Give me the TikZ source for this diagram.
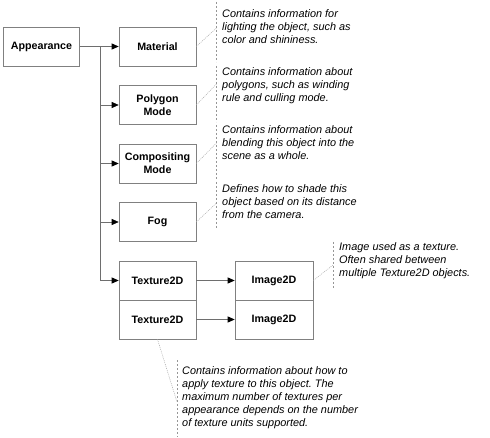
\documentclass[tikz,border=0pt]{standalone}
\usepackage{fontspec}
\setmainfont{Liberation Sans}
\frenchspacing
\usetikzlibrary{arrows.meta}
\definecolor{boxline}{RGB}{128,128,128}
\definecolor{conline}{RGB}{110,110,110}
\definecolor{dashline}{RGB}{150,150,150}
\definecolor{leadline}{RGB}{170,170,170}
\tikzset{
  box/.style={draw=boxline, line width=0.6pt, minimum width=77pt, minimum height=39pt,
    inner sep=1pt, align=center, font=\fontsize{10.7}{13}\selectfont\bfseries},
  arr/.style={draw=conline, line width=0.6pt, -{Triangle[length=7pt,width=6pt,fill=black,color=black]}},
  note/.style={anchor=north west, inner sep=0pt, align=left,
    font=\fontsize{10.9}{13.1}\selectfont\itshape\frenchspacing},
  dline/.style={draw=dashline, line width=0.6pt, dash pattern=on 2pt off 2pt},
  lead/.style={draw=leadline, line width=0.5pt, dash pattern=on 1pt off 1pt}
}
\begin{document}
\begin{tikzpicture}[x=1pt,y=-1pt]
\useasboundingbox (0,0) rectangle (490,438);
% boxes
\node[box, minimum width=76pt] (app) at (41.5,46.5) {Appearance};
\node[box] (mat) at (157.5,46.5) {Material};
\node[box] (poly) at (157.5,105) {Polygon\\Mode};
\node[box] (comp) at (157.5,163.5) {Compositing\\Mode};
\node[box] (fog) at (157.5,222) {Fog};
\node[box] (tex1) at (157.5,280.5) {Texture2D};
\node[box] (tex2) at (157.5,319.5) {Texture2D};
\node[box, minimum width=78pt] (img1) at (274,280.5) {Image2D};
\node[box, minimum width=78pt] (img2) at (274,319.5) {Image2D};
% connectors
\coordinate (j1) at (100,46.5);
\draw[arr] (app.east) -- (mat.west);
\draw[arr] (j1) |- (poly.west);
\draw[arr] (j1) |- (comp.west);
\draw[arr] (j1) |- (fog.west);
\draw[arr] (j1) |- (tex1.west);
\draw[arr] (tex1.east) -- (img1.west);
\draw[arr] (tex2.east) -- (img2.west);
% note dashed lines
\coordinate (d1a) at (216.5,2); \coordinate (d1b) at (216.5,62);
\coordinate (d2a) at (216.5,66); \coordinate (d2b) at (216.5,122);
\coordinate (d3a) at (216.5,125); \coordinate (d3b) at (216.5,179);
\coordinate (d4a) at (216.5,182); \coordinate (d4b) at (216.5,228);
\coordinate (d5a) at (333,242); \coordinate (d5b) at (333,288);
\coordinate (d6a) at (177,360); \coordinate (d6b) at (177,437);
\draw[dline] (d1a) -- (d1b);
\draw[dline] (d2a) -- (d2b);
\draw[dline] (d3a) -- (d3b);
\draw[dline] (d4a) -- (d4b);
\draw[dline] (d5a) -- (d5b);
\draw[dline] (d6a) -- (d6b);
% leaders
\coordinate (l1) at (216.5,28);
\coordinate (l2) at (216.5,84);
\coordinate (l3) at (216.5,143);
\coordinate (l4) at (216.5,203);
\coordinate (l5) at (333,265);
\coordinate (l6) at (177,402);
\draw[lead] (mat.east) -- (l1);
\draw[lead] (poly.east) -- (l2);
\draw[lead] (comp.east) -- (l3);
\draw[lead] (fog.east) -- (l4);
\draw[lead] (img1.east) -- (l5);
\draw[lead] (tex2.south) -- (l6);
% notes
\node[note] (n1) at (222,9.6) {Contains information for\\lighting the object, such as\\color and shininess.};
\node[note] (n2) at (222,67.6) {Contains information about\\polygons, such as winding\\rule and culling mode.};
\node[note] (n3) at (222,125.6) {Contains information about\\blending this object into the\\scene as a whole.};
\node[note] (n4) at (222,184.6) {Defines how to shade this\\object based on its distance\\from the camera.};
\node[note] (n5) at (339,242.6) {Image used as a texture.\\Often shared between\\multiple Texture2D objects.};
\node[note] (n6) at (182,366.1) {Contains information about how to\\apply texture to this object. The\\maximum number of textures per\\appearance depends on the number\\of texture units supported.};
\end{tikzpicture}
\end{document}
